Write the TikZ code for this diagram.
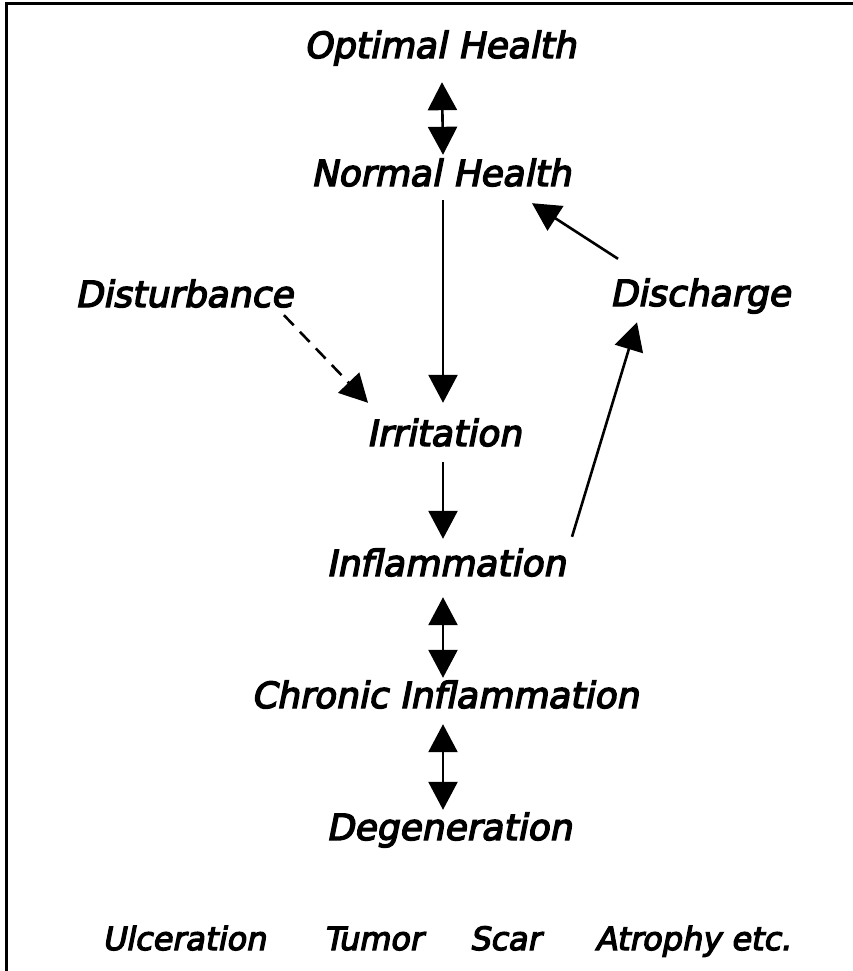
\documentclass[tikz,border=0pt]{standalone}
\usepackage{fontspec}
\setmainfont{DejaVu Sans}
\newfontfamily\lblfont{DejaVu Sans}[FakeSlant=0.2,FakeBold=4]
\usetikzlibrary{arrows.meta}
\begin{document}
\begin{tikzpicture}[x=1pt,y=-1pt,
  lbl/.style={font=\lblfont\fontsize{36}{42}\selectfont, inner sep=0pt, anchor=base, text height=27pt, text depth=8pt},
  small/.style={lbl, font=\lblfont\fontsize{32}{38}\selectfont},
  arr/.style={line width=2.6pt, -{Triangle[width=29pt,length=28pt]}},
  dbl/.style={line width=2.6pt, {Triangle[width=29pt,length=28pt]}-{Triangle[width=29pt,length=28pt]}},
  dsh/.style={line width=2.6pt, dash pattern=on 14pt off 9pt, -{Triangle[width=29pt,length=28pt]}}]
\useasboundingbox (0,0) rectangle (853,971);
% frame
\draw[line width=3pt] (6,971) -- (6,4) -- (853,4);
% nodes
\node[lbl] (opt)   at (440,58)  {Optimal Health};
\node[lbl] (norm)  at (441,186) {Normal Health};
\node[lbl] (dist)  at (184,307) {Disturbance};
\node[lbl] (disch) at (700,306) {Discharge};
\node[lbl] (irr)   at (444,446) {Irritation};
\node[lbl] (infl)  at (446,576) {Inflammation};
\node[lbl] (chron) at (445,708) {Chronic Inflammation};
\node[lbl] (degen) at (449,840) {Degeneration};
\node[small] (ulc)   at (184,950) {Ulceration};
\node[small] (tum)   at (373,950) {Tumor};
\node[small] (scar)  at (505,950) {Scar};
\node[small] (atr)   at (693,950) {Atrophy etc.};
% connectors
\draw[dbl] ([xshift=2pt,yshift=-16pt]opt.south) -- ([xshift=2pt,yshift=4pt]norm.north);
\draw[arr] ([xshift=2pt,yshift=-6pt]norm.south) -- ([xshift=-1pt,yshift=16pt]irr.north);
\draw[arr] ([xshift=-1pt,yshift=-8pt]irr.south) -- ([xshift=-3pt,yshift=10pt]infl.north);
\draw[dbl] ([xshift=-3pt,yshift=-13pt]infl.south) -- ([xshift=-2pt,yshift=3pt]chron.north);
\draw[dbl] ([xshift=-2pt,yshift=-8pt]chron.south) -- ([xshift=-6pt,yshift=3pt]degen.north);
\draw[dsh] ([xshift=100pt]dist.south) -- ([xshift=-76pt,yshift=16pt]irr.north);
\draw[arr] ([xshift=126pt,yshift=12pt]infl.north) -- ([xshift=-63pt,yshift=-8pt]disch.south);
\draw[arr] ([xshift=-82pt,yshift=20pt]disch.north) -- ([xshift=91pt,yshift=-9pt]norm.south);
\end{tikzpicture}
\end{document}
